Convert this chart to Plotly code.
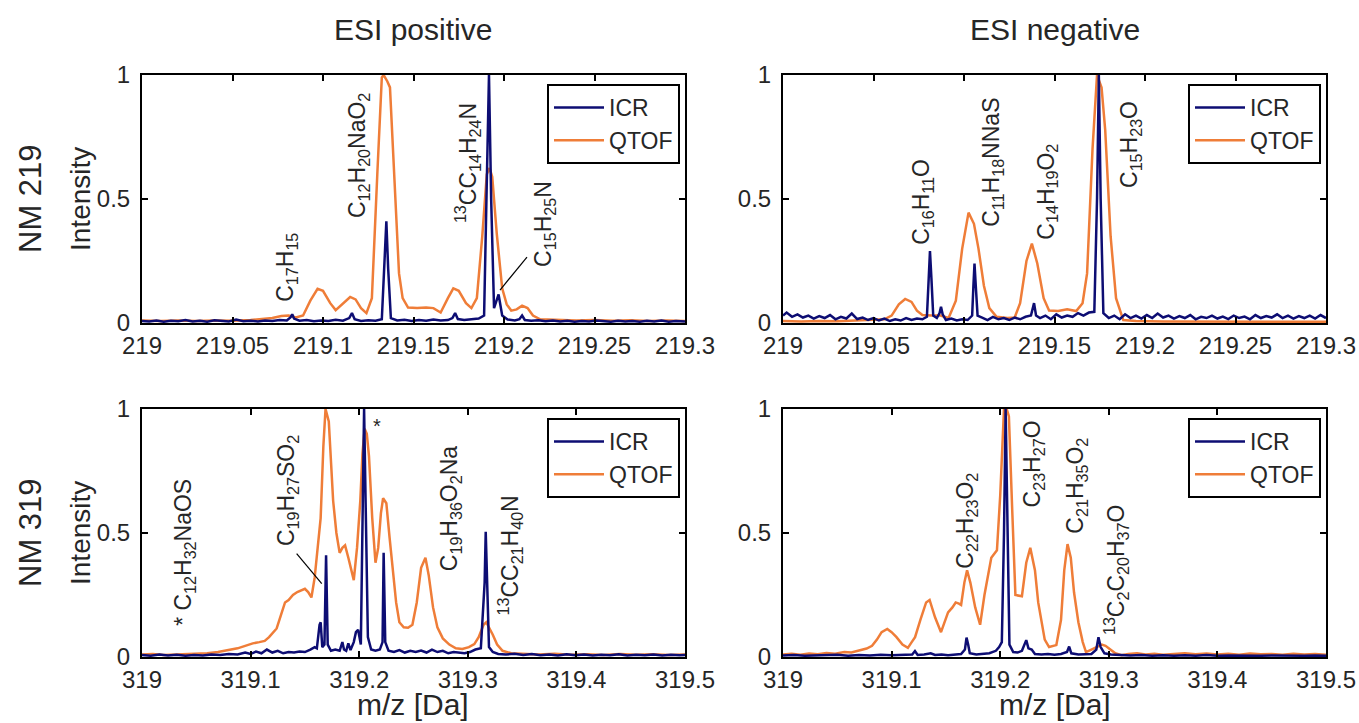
import plotly.graph_objects as go

W, H = 1359, 723
ICR_COLOR = "#0d0d73"
QTOF_COLOR = "#ef7d38"
FONT = "Liberation Sans, Arial, Helvetica, sans-serif"
TEXT_COLOR = "#262626"

# ---------------- NM 219, ESI positive ----------------
mz_219p_icr = [219.000, 219.004, 219.008, 219.012, 219.016, 219.020, 219.024, 219.028, 219.032, 219.036,
               219.040, 219.044, 219.048, 219.052, 219.056, 219.060, 219.064, 219.068, 219.072, 219.076,
               219.080, 219.082, 219.083, 219.084, 219.087, 219.091, 219.095, 219.099, 219.103, 219.107,
               219.111, 219.1145, 219.116, 219.1175, 219.121, 219.125, 219.129, 219.1325, 219.134, 219.135,
               219.136, 219.1375, 219.141, 219.145, 219.149, 219.153, 219.157, 219.161, 219.165, 219.169,
               219.1715, 219.173, 219.1745, 219.178, 219.182, 219.186, 219.189, 219.1905, 219.1917, 219.1929,
               219.1945, 219.197, 219.199, 219.202, 219.206, 219.2085, 219.210, 219.2115, 219.215, 219.219,
               219.223, 219.227, 219.231, 219.235, 219.239, 219.243, 219.247, 219.251, 219.255, 219.259,
               219.263, 219.267, 219.271, 219.275, 219.279, 219.283, 219.287, 219.291, 219.295, 219.300]
int_219p_icr = [0.008, 0.006, 0.010, 0.005, 0.009, 0.007, 0.012, 0.006, 0.009, 0.005,
                0.011, 0.008, 0.006, 0.014, 0.007, 0.009, 0.006, 0.010, 0.008, 0.012,
                0.010, 0.022, 0.035, 0.018, 0.009, 0.012, 0.007, 0.010, 0.008, 0.013,
                0.009, 0.020, 0.040, 0.015, 0.008, 0.011, 0.009, 0.015, 0.22, 0.41,
                0.22, 0.02, 0.010, 0.013, 0.008, 0.012, 0.009, 0.014, 0.010, 0.012,
                0.020, 0.040, 0.016, 0.012, 0.015, 0.018, 0.03, 0.50, 1.00, 0.50,
                0.06, 0.115, 0.03, 0.014, 0.010, 0.015, 0.030, 0.012, 0.009, 0.011,
                0.007, 0.010, 0.006, 0.009, 0.005, 0.008, 0.006, 0.010, 0.007, 0.005,
                0.009, 0.006, 0.008, 0.005, 0.009, 0.006, 0.010, 0.005, 0.008, 0.006]

mz_219p_qtof = [219.000, 219.010, 219.020, 219.030, 219.040, 219.050, 219.060, 219.066, 219.072, 219.077,
                219.081, 219.085, 219.089, 219.093, 219.097, 219.100, 219.104, 219.107, 219.111, 219.115,
                219.118, 219.121, 219.124, 219.127, 219.130, 219.1325, 219.1335, 219.1355, 219.137, 219.1395,
                219.142, 219.144, 219.147, 219.152, 219.157, 219.161, 219.165, 219.169, 219.172, 219.175,
                219.179, 219.182, 219.185, 219.188, 219.1905, 219.192, 219.1935, 219.196, 219.199, 219.2015,
                219.204, 219.207, 219.210, 219.213, 219.216, 219.220, 219.230, 219.240, 219.250, 219.260,
                219.270, 219.280, 219.290, 219.300]
int_219p_qtof = [0.010, 0.008, 0.010, 0.008, 0.010, 0.009, 0.012, 0.015, 0.020, 0.028,
                 0.030, 0.022, 0.030, 0.090, 0.138, 0.130, 0.080, 0.052, 0.080, 0.105,
                 0.095, 0.060, 0.040, 0.100, 0.600, 0.990, 1.000, 0.975, 0.950, 0.600,
                 0.200, 0.100, 0.062, 0.060, 0.062, 0.060, 0.042, 0.100, 0.140, 0.130,
                 0.080, 0.060, 0.100, 0.350, 0.600, 0.625, 0.590, 0.360, 0.140, 0.075,
                 0.050, 0.055, 0.070, 0.060, 0.030, 0.015, 0.012, 0.010, 0.012, 0.009,
                 0.011, 0.008, 0.010, 0.008]

# ---------------- NM 219, ESI negative ----------------
mz_219n_icr = [219.000, 219.002, 219.005, 219.008, 219.011, 219.014, 219.017, 219.020, 219.023, 219.026,
               219.029, 219.032, 219.035, 219.038, 219.041, 219.044, 219.047, 219.050, 219.053, 219.056,
               219.059, 219.062, 219.065, 219.068, 219.071, 219.074, 219.077, 219.0795, 219.0805, 219.0812,
               219.0820, 219.083, 219.085, 219.0865, 219.0873, 219.0882, 219.090, 219.093, 219.096, 219.099,
               219.102, 219.1045, 219.1052, 219.1058, 219.1065, 219.1075, 219.110, 219.113, 219.116, 219.119,
               219.122, 219.125, 219.128, 219.131, 219.134, 219.137, 219.1387, 219.1398, 219.142, 219.145,
               219.148, 219.151, 219.154, 219.157, 219.160, 219.163, 219.166, 219.169, 219.172, 219.1735,
               219.1745, 219.1755, 219.177, 219.180, 219.183, 219.186, 219.189, 219.192, 219.195, 219.198,
               219.201, 219.204, 219.207, 219.210, 219.213, 219.216, 219.219, 219.222, 219.225, 219.228,
               219.231, 219.234, 219.237, 219.240, 219.243, 219.246, 219.249, 219.252, 219.255, 219.258,
               219.261, 219.264, 219.267, 219.270, 219.273, 219.276, 219.279, 219.282, 219.285, 219.288,
               219.291, 219.294, 219.297, 219.300]
int_219n_icr = [0.030, 0.042, 0.025, 0.035, 0.022, 0.030, 0.018, 0.028, 0.020, 0.032,
                0.015, 0.025, 0.018, 0.038, 0.016, 0.022, 0.012, 0.020, 0.010, 0.018,
                0.008, 0.015, 0.010, 0.020, 0.012, 0.018, 0.015, 0.025, 0.18, 0.29,
                0.18, 0.03, 0.020, 0.040, 0.065, 0.035, 0.012, 0.018, 0.010, 0.015,
                0.012, 0.030, 0.15, 0.24, 0.15, 0.03, 0.022, 0.012, 0.025, 0.015,
                0.020, 0.012, 0.022, 0.015, 0.025, 0.030, 0.080, 0.030, 0.020, 0.030,
                0.015, 0.035, 0.022, 0.030, 0.025, 0.040, 0.030, 0.042, 0.045, 0.50,
                1.00, 0.50, 0.040, 0.020, 0.030, 0.015, 0.035, 0.020, 0.030, 0.018,
                0.032, 0.020, 0.038, 0.022, 0.030, 0.018, 0.028, 0.020, 0.032, 0.015,
                0.025, 0.020, 0.030, 0.018, 0.026, 0.016, 0.030, 0.020, 0.026, 0.015,
                0.032, 0.020, 0.028, 0.022, 0.035, 0.020, 0.030, 0.018, 0.028, 0.020,
                0.030, 0.018, 0.032, 0.020]

mz_219n_qtof = [219.000, 219.010, 219.020, 219.030, 219.040, 219.050, 219.056, 219.060, 219.064, 219.0675,
                219.071, 219.074, 219.077, 219.082, 219.087, 219.0915, 219.0955, 219.099, 219.1025, 219.1055,
                219.108, 219.111, 219.114, 219.118, 219.124, 219.128, 219.131, 219.1345, 219.1375, 219.1405,
                219.144, 219.147, 219.152, 219.157, 219.162, 219.1655, 219.168, 219.171, 219.1735, 219.176,
                219.178, 219.181, 219.184, 219.188, 219.195, 219.210, 219.230, 219.250, 219.270, 219.300]
int_219n_qtof = [0.008, 0.006, 0.008, 0.007, 0.010, 0.012, 0.015, 0.030, 0.075, 0.097,
                 0.085, 0.050, 0.032, 0.030, 0.030, 0.020, 0.090, 0.300, 0.445, 0.400,
                 0.300, 0.150, 0.060, 0.025, 0.020, 0.022, 0.080, 0.250, 0.320, 0.240,
                 0.100, 0.050, 0.048, 0.055, 0.048, 0.080, 0.200, 0.700, 1.000, 0.950,
                 0.780, 0.350, 0.100, 0.012, 0.008, 0.006, 0.005, 0.006, 0.005, 0.005]

# ---------------- NM 319, ESI positive ----------------
mz_319p_icr = [319.000, 319.008, 319.016, 319.024, 319.032, 319.040, 319.048, 319.056, 319.064, 319.072,
               319.080, 319.088, 319.095, 319.100, 319.105, 319.110, 319.115, 319.120, 319.125, 319.130,
               319.135, 319.140, 319.145, 319.150, 319.155, 319.159, 319.161, 319.1635, 319.1645, 319.1660,
               319.168, 319.1695, 319.1710, 319.174, 319.178, 319.182, 319.1845, 319.186, 319.188, 319.190,
               319.192, 319.195, 319.197, 319.199, 319.2015, 319.2035, 319.2045, 319.2060, 319.2080, 319.211,
               319.215, 319.219, 319.2215, 319.2225, 319.2240, 319.227, 319.232, 319.237, 319.242, 319.247,
               319.252, 319.257, 319.262, 319.267, 319.272, 319.277, 319.282, 319.287, 319.292, 319.297,
               319.302, 319.307, 319.312, 319.3155, 319.3165, 319.3178, 319.3195, 319.323, 319.328, 319.335,
               319.343, 319.351, 319.359, 319.367, 319.375, 319.383, 319.391, 319.399, 319.407, 319.415,
               319.423, 319.431, 319.439, 319.447, 319.455, 319.463, 319.471, 319.479, 319.487, 319.495,
               319.500]
int_319p_icr = [0.008, 0.005, 0.010, 0.006, 0.009, 0.005, 0.008, 0.006, 0.010, 0.008,
                0.012, 0.010, 0.018, 0.012, 0.022, 0.015, 0.030, 0.018, 0.025, 0.015,
                0.020, 0.018, 0.022, 0.020, 0.030, 0.040, 0.035, 0.13, 0.14, 0.04,
                0.05, 0.41, 0.05, 0.025, 0.030, 0.025, 0.060, 0.030, 0.025, 0.055,
                0.028, 0.060, 0.100, 0.110, 0.050, 0.60, 1.00, 0.60, 0.080, 0.030,
                0.025, 0.030, 0.060, 0.42, 0.06, 0.025, 0.020, 0.028, 0.018, 0.025,
                0.020, 0.026, 0.018, 0.030, 0.020, 0.025, 0.015, 0.020, 0.018, 0.015,
                0.020, 0.030, 0.035, 0.30, 0.505, 0.30, 0.040, 0.020, 0.012, 0.010,
                0.013, 0.008, 0.012, 0.007, 0.010, 0.006, 0.011, 0.007, 0.010, 0.006,
                0.009, 0.007, 0.011, 0.006, 0.009, 0.007, 0.010, 0.006, 0.009, 0.007,
                0.008]

mz_319p_qtof = [319.000, 319.010, 319.020, 319.030, 319.040, 319.050, 319.060, 319.070, 319.080, 319.088,
                319.095, 319.102, 319.108, 319.113, 319.117, 319.121, 319.124, 319.128, 319.1317, 319.135,
                319.139, 319.143, 319.147, 319.150, 319.153, 319.156, 319.159, 319.162, 319.1645, 319.167,
                319.169, 319.172, 319.174, 319.176, 319.179, 319.182, 319.1845, 319.187, 319.190, 319.193,
                319.195, 319.198, 319.201, 319.203, 319.205, 319.207, 319.209, 319.212, 319.215, 319.2175,
                319.220, 319.222, 319.225, 319.228, 319.231, 319.234, 319.237, 319.241, 319.245, 319.249,
                319.253, 319.257, 319.261, 319.264, 319.268, 319.272, 319.277, 319.283, 319.289, 319.295,
                319.301, 319.306, 319.310, 319.3145, 319.317, 319.320, 319.323, 319.327, 319.332, 319.340,
                319.350, 319.365, 319.380, 319.395, 319.410, 319.425, 319.440, 319.455, 319.470, 319.485,
                319.500]
int_319p_qtof = [0.010, 0.012, 0.008, 0.010, 0.009, 0.012, 0.015, 0.020, 0.027, 0.035,
                 0.045, 0.055, 0.060, 0.065, 0.080, 0.100, 0.115, 0.170, 0.220, 0.230,
                 0.250, 0.262, 0.270, 0.275, 0.262, 0.240, 0.320, 0.450, 0.560, 0.850,
                 1.000, 0.950, 0.800, 0.630, 0.500, 0.420, 0.440, 0.450, 0.400, 0.340,
                 0.310, 0.440, 0.630, 0.820, 0.920, 0.900, 0.810, 0.560, 0.380, 0.440,
                 0.580, 0.640, 0.620, 0.480, 0.340, 0.220, 0.140, 0.120, 0.118, 0.130,
                 0.220, 0.360, 0.400, 0.330, 0.200, 0.120, 0.075, 0.050, 0.035, 0.032,
                 0.040, 0.052, 0.080, 0.130, 0.140, 0.115, 0.090, 0.050, 0.025, 0.015,
                 0.012, 0.010, 0.013, 0.009, 0.011, 0.008, 0.012, 0.009, 0.011, 0.008,
                 0.010]

# ---------------- NM 319, ESI negative ----------------
mz_319n_icr = [319.000, 319.010, 319.020, 319.030, 319.040, 319.050, 319.060, 319.070, 319.080, 319.090,
               319.100, 319.110, 319.119, 319.1215, 319.124, 319.130, 319.136, 319.140, 319.146, 319.152,
               319.158, 319.164, 319.1675, 319.1690, 319.1705, 319.172, 319.178, 319.184, 319.190, 319.196,
               319.199, 319.2015, 319.2035, 319.2050, 319.2065, 319.2085, 319.212, 319.216, 319.220, 319.2225,
               319.2240, 319.2260, 319.229, 319.232, 319.238, 319.244, 319.250, 319.256, 319.2615, 319.2635,
               319.2655, 319.272, 319.278, 319.284, 319.2885, 319.2905, 319.2925, 319.296, 319.302, 319.310,
               319.320, 319.330, 319.340, 319.350, 319.360, 319.370, 319.380, 319.390, 319.400, 319.410,
               319.420, 319.430, 319.440, 319.450, 319.460, 319.470, 319.480, 319.490, 319.500]
int_319n_icr = [0.006, 0.008, 0.005, 0.007, 0.006, 0.009, 0.005, 0.008, 0.006, 0.009,
                0.007, 0.008, 0.010, 0.024, 0.008, 0.010, 0.015, 0.008, 0.010, 0.007,
                0.010, 0.012, 0.030, 0.078, 0.050, 0.015, 0.010, 0.012, 0.015, 0.025,
                0.040, 0.060, 0.50, 1.00, 0.50, 0.050, 0.020, 0.018, 0.025, 0.050,
                0.068, 0.035, 0.030, 0.012, 0.010, 0.012, 0.009, 0.012, 0.020, 0.042,
                0.015, 0.010, 0.012, 0.012, 0.030, 0.080, 0.040, 0.015, 0.010, 0.008,
                0.006, 0.008, 0.005, 0.007, 0.005, 0.007, 0.005, 0.008, 0.005, 0.006,
                0.005, 0.007, 0.005, 0.006, 0.005, 0.007, 0.005, 0.006, 0.005]

mz_319n_qtof = [319.000, 319.008, 319.016, 319.024, 319.032, 319.040, 319.048, 319.0565, 319.063, 319.070,
                319.077, 319.082, 319.0865, 319.0908, 319.096, 319.100, 319.1045, 319.110, 319.115, 319.1185,
                319.1216, 319.1265, 319.1318, 319.135, 319.140, 319.1455, 319.149, 319.152, 319.156, 319.159,
                319.162, 319.164, 319.167, 319.1695, 319.1725, 319.177, 319.1815, 319.1855, 319.1918, 319.197,
                319.200, 319.2035, 319.206, 319.208, 319.211, 319.214, 319.220, 319.224, 319.2277, 319.232,
                319.235, 319.238, 319.241, 319.245, 319.2517, 319.256, 319.259, 319.262, 319.265, 319.268,
                319.272, 319.276, 319.279, 319.284, 319.289, 319.2935, 319.297, 319.301, 319.306, 319.3116,
                319.318, 319.326, 319.334, 319.342, 319.350, 319.360, 319.370, 319.380, 319.390, 319.400,
                319.410, 319.420, 319.430, 319.440, 319.450, 319.460, 319.470, 319.480, 319.490, 319.500]
int_319n_qtof = [0.010, 0.013, 0.009, 0.014, 0.011, 0.016, 0.013, 0.020, 0.018, 0.026,
                 0.034, 0.045, 0.070, 0.100, 0.113, 0.100, 0.080, 0.050, 0.037, 0.060,
                 0.080, 0.150, 0.220, 0.230, 0.160, 0.100, 0.140, 0.180, 0.200, 0.220,
                 0.215, 0.210, 0.300, 0.350, 0.300, 0.200, 0.130, 0.250, 0.400, 0.430,
                 0.650, 1.000, 1.000, 0.970, 0.600, 0.250, 0.245, 0.380, 0.440, 0.350,
                 0.220, 0.140, 0.070, 0.040, 0.048, 0.150, 0.350, 0.455, 0.400, 0.260,
                 0.140, 0.060, 0.020, 0.030, 0.040, 0.050, 0.045, 0.030, 0.015, 0.007,
                 0.012, 0.015, 0.010, 0.013, 0.009, 0.012, 0.015, 0.011, 0.014, 0.010,
                 0.013, 0.009, 0.014, 0.011, 0.012, 0.009, 0.013, 0.010, 0.012, 0.009]

# Axis ticks
ticks_219 = [219, 219.05, 219.1, 219.15, 219.2, 219.25, 219.3]
ticktext_219 = ["219", "219.05", "219.1", "219.15", "219.2", "219.25", "219.3"]
ticks_319 = [319, 319.1, 319.2, 319.3, 319.4, 319.5]
ticktext_319 = ["319", "319.1", "319.2", "319.3", "319.4", "319.5"]
ticks_int = [0, 0.5, 1]
ticktext_int = ["0", "0.5", "1"]

# Peak assignments: (m/z, intensity at label centre, label)
labels_219p = [(219.0800, 0.226, "C<sub>17</sub>H<sub>15</sub>"),
               (219.1193, 0.677, "C<sub>12</sub>H<sub>20</sub>NaO<sub>2</sub>"),
               (219.1796, 0.645, "<sup>13</sup>CC<sub>14</sub>H<sub>24</sub>N"),
               (219.2227, 0.400, "C<sub>15</sub>H<sub>25</sub>N")]
labels_219n = [(219.0770, 0.490, "C<sub>16</sub>H<sub>11</sub>O"),
               (219.1160, 0.650, "C<sub>11</sub>H<sub>18</sub>NNaS"),
               (219.1459, 0.530, "C<sub>14</sub>H<sub>19</sub>O<sub>2</sub>"),
               (219.1920, 0.720, "C<sub>15</sub>H<sub>23</sub>O")]
labels_319p = [(319.0396, 0.420, "* C<sub>12</sub>H<sub>32</sub>NaOS"),
               (319.1347, 0.670, "C<sub>19</sub>H<sub>27</sub>SO<sub>2</sub>"),
               (319.2836, 0.600, "C<sub>19</sub>H<sub>36</sub>O<sub>2</sub>Na"),
               (319.3390, 0.410, "<sup>13</sup>CC<sub>21</sub>H<sub>40</sub>N")]
labels_319n = [(319.1695, 0.550, "C<sub>22</sub>H<sub>23</sub>O<sub>2</sub>"),
               (319.2310, 0.780, "C<sub>23</sub>H<sub>27</sub>O"),
               (319.2705, 0.690, "C<sub>21</sub>H<sub>35</sub>O<sub>2</sub>"),
               (319.3065, 0.350, "<sup>13</sup>C<sub>2</sub>C<sub>20</sub>H<sub>37</sub>O")]

# Leader lines from a label to its peak: (x0, y0, x1, y1)
leaders_219p = [(219.2127, 0.266, 219.1978, 0.133)]
leaders_319p = [(319.1424, 0.417, 319.1655, 0.296)]


def px_x(p):
    return p / W


def px_y(p):
    return 1 - p / H


# plot area boxes in pixels: (left, right, top, bottom)
boxes = [(142, 685, 75, 323), (783, 1326, 75, 323), (142, 685, 409, 657), (783, 1326, 409, 657)]

panels = [
    dict(icr=(mz_219p_icr, int_219p_icr), qtof=(mz_219p_qtof, int_219p_qtof), rng=[219, 219.3],
         ticks=(ticks_219, ticktext_219), labels=labels_219p, leaders=leaders_219p),
    dict(icr=(mz_219n_icr, int_219n_icr), qtof=(mz_219n_qtof, int_219n_qtof), rng=[219, 219.3],
         ticks=(ticks_219, ticktext_219), labels=labels_219n, leaders=[]),
    dict(icr=(mz_319p_icr, int_319p_icr), qtof=(mz_319p_qtof, int_319p_qtof), rng=[319, 319.5],
         ticks=(ticks_319, ticktext_319), labels=labels_319p, leaders=leaders_319p),
    dict(icr=(mz_319n_icr, int_319n_icr), qtof=(mz_319n_qtof, int_319n_qtof), rng=[319, 319.5],
         ticks=(ticks_319, ticktext_319), labels=labels_319n, leaders=[]),
]

fig = go.Figure()
annotations = []
shapes = []
layout = {}

for i, (p, box) in enumerate(zip(panels, boxes)):
    n = "" if i == 0 else str(i + 1)
    xa, ya = "x" + n, "y" + n
    leg = "legend" + n
    left, right, top, bottom = box
    # QTOF first so the narrow ICR lines sit on top; legend order kept ICR, QTOF
    fig.add_trace(go.Scatter(x=p["qtof"][0], y=p["qtof"][1], mode="lines", name="QTOF",
                             line=dict(color=QTOF_COLOR, width=2.5), xaxis=xa, yaxis=ya,
                             legend=leg, legendrank=2))
    fig.add_trace(go.Scatter(x=p["icr"][0], y=p["icr"][1], mode="lines", name="ICR",
                             line=dict(color=ICR_COLOR, width=2.5), xaxis=xa, yaxis=ya,
                             legend=leg, legendrank=1))
    axis_common = dict(showline=True, linecolor="black", linewidth=2, mirror="ticks",
                       ticks="inside", ticklen=6, tickwidth=1.5, tickcolor="black",
                       showgrid=False, zeroline=False, automargin=False,
                       tickfont=dict(family=FONT, size=24, color=TEXT_COLOR))
    layout["xaxis" + n] = dict(axis_common, domain=[px_x(left), px_x(right)], anchor=ya,
                               range=p["rng"], tickvals=p["ticks"][0], ticktext=p["ticks"][1],
                               ticklabeloverflow="allow")
    layout["yaxis" + n] = dict(axis_common, domain=[px_y(bottom), px_y(top)], anchor=xa,
                               range=[0, 1], tickvals=ticks_int, ticktext=ticktext_int,
                               ticklabelstandoff=5)
    layout[leg] = dict(x=px_x(right - 5), y=px_y(top + 9), xanchor="right", yanchor="top",
                       bgcolor="white", bordercolor="black", borderwidth=2,
                       font=dict(family=FONT, size=23, color=TEXT_COLOR),
                       itemwidth=50, tracegroupgap=0, traceorder="normal")
    for (mx, my, txt) in p["labels"]:
        annotations.append(dict(x=mx, y=my, xref=xa, yref=ya, text=txt, showarrow=False,
                                textangle=-90, xanchor="center", yanchor="middle",
                                font=dict(family=FONT, size=23, color=TEXT_COLOR)))
    for (x0, y0, x1, y1) in p["leaders"]:
        shapes.append(dict(type="line", xref=xa, yref=ya, x0=x0, y0=y0, x1=x1, y1=y1,
                           line=dict(color="black", width=1.2)))

# asterisk marking the adduct peak in NM 319 positive
annotations.append(dict(x=319.216, y=0.93, xref="x3", yref="y3", text="*", showarrow=False,
                        font=dict(family=FONT, size=20, color=TEXT_COLOR)))

# column / row headings and axis titles
page_text = [
    ("ESI positive", 413, 30, 0, 30),
    ("ESI negative", 1055, 30, 0, 30),
    ("NM 219", 30, 199, -90, 31),
    ("NM 319", 30, 533, -90, 31),
    ("Intensity", 80, 199, -90, 28),
    ("Intensity", 80, 533, -90, 28),
    ("m/z [Da]", 413, 704, 0, 30),
    ("m/z [Da]", 1055, 704, 0, 30),
]
for (txt, px, py, ang, size) in page_text:
    annotations.append(dict(x=px_x(px), y=px_y(py), xref="paper", yref="paper", text=txt,
                            showarrow=False, textangle=ang, xanchor="center", yanchor="middle",
                            font=dict(family=FONT, size=size, color=TEXT_COLOR)))

fig.update_layout(**layout)
fig.update_layout(width=W, height=H, margin=dict(l=0, r=0, t=0, b=0),
                  paper_bgcolor="white", plot_bgcolor="white",
                  annotations=annotations, shapes=shapes, showlegend=True,
                  font=dict(family=FONT, color=TEXT_COLOR))

fig.write_html("out.html")
